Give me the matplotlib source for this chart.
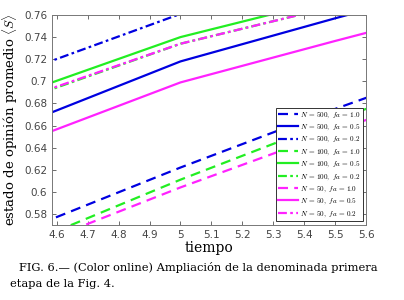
import numpy as np
import matplotlib
matplotlib.use('Agg')
import matplotlib.pyplot as plt
from matplotlib.ticker import FuncFormatter

plt.rcParams['mathtext.fontset'] = 'cm'

# time samples and average opinion <S> for each (N, fa)
t = [4.5, 5.0, 5.5, 6.0]
s_500_10 = [0.566, 0.622, 0.675, 0.725]
s_500_05 = [0.6626, 0.718, 0.757, 0.795]
s_500_02 = [0.710, 0.761, 0.800, 0.840]
s_100_10 = [0.553, 0.611, 0.665, 0.715]
s_100_05 = [0.6906, 0.740, 0.775, 0.810]
s_100_02 = [0.6845, 0.734, 0.768, 0.800]
s_50_10 = [0.549, 0.604, 0.655, 0.705]
s_50_05 = [0.646, 0.699, 0.7365, 0.773]
s_50_02 = [0.6855, 0.734, 0.768, 0.800]

series = [
    (s_500_10, '#0000e0', 'dashed', '500', '1.0'),
    (s_500_05, '#0000e0', 'solid', '500', '0.5'),
    (s_500_02, '#0000e0', 'dashdot', '500', '0.2'),
    (s_100_10, '#22ee22', 'dashed', '100', '1.0'),
    (s_100_05, '#22ee22', 'solid', '100', '0.5'),
    (s_100_02, '#22ee22', 'dashdot', '100', '0.2'),
    (s_50_10, '#ff22ff', 'dashed', '50', '1.0'),
    (s_50_05, '#ff22ff', 'solid', '50', '0.5'),
    (s_50_02, '#ff22ff', 'dashdot', '50', '0.2'),
]

fig = plt.figure(figsize=(4.04, 3.0), dpi=100)
ax = fig.add_axes([0.129, 0.25, 0.777, 0.70])

for y, c, ls, n, fa in series:
    line, = ax.plot(t, y, color=c, lw=1.6, label=rf'$N\,=\,{n},\ fa\,=\,{fa}$')
    if ls == 'dashed':
        line.set_dashes((4.5, 2.8))
    elif ls == 'dashdot':
        line.set_dashes((4, 1.5, 1.2, 1.5))

ax.set_xlim(4.585, 5.6)
ax.set_ylim(0.57, 0.76)
ax.set_xticks(np.arange(4.6, 5.61, 0.1))
ax.set_yticks(np.arange(0.58, 0.761, 0.02))
ax.xaxis.set_major_formatter(FuncFormatter(lambda v, p: f'{round(v, 1):g}'))
ax.yaxis.set_major_formatter(FuncFormatter(lambda v, p: f'{round(v, 2):g}'))
ax.tick_params(direction='in', length=3, width=0.6, labelsize=7.5, colors='#555555',
               top=True, right=True, labelcolor='#444444')
for sp in ax.spines.values():
    sp.set_color('#777777')
    sp.set_linewidth(0.7)

serif = ['DejaVu Serif']
ax.set_xlabel('tiempo', fontsize=10, family=serif, labelpad=1)
ax.set_ylabel(r'estado de opinión promedio $\langle S\rangle$', fontsize=9.5, family=serif, labelpad=3)

leg = ax.legend(loc='lower right', bbox_to_anchor=(0.99, 0.02), fontsize=5.2,
                handlelength=2.8, handletextpad=0.3, labelspacing=0.38,
                borderpad=0.3, borderaxespad=0, fancybox=False, framealpha=1,
                edgecolor='#333333')
leg.get_frame().set_linewidth(0.7)

fig.text(0.048, 0.107, 'FIG. 6.— (Color online) Ampliación de la denominada primera',
         fontsize=8.2, family=serif, ha='left', va='center')
fig.text(0.024, 0.052, 'etapa de la Fig. 4.', fontsize=8.2, family=serif, ha='left', va='center')

fig.savefig('out.png', dpi=100)
